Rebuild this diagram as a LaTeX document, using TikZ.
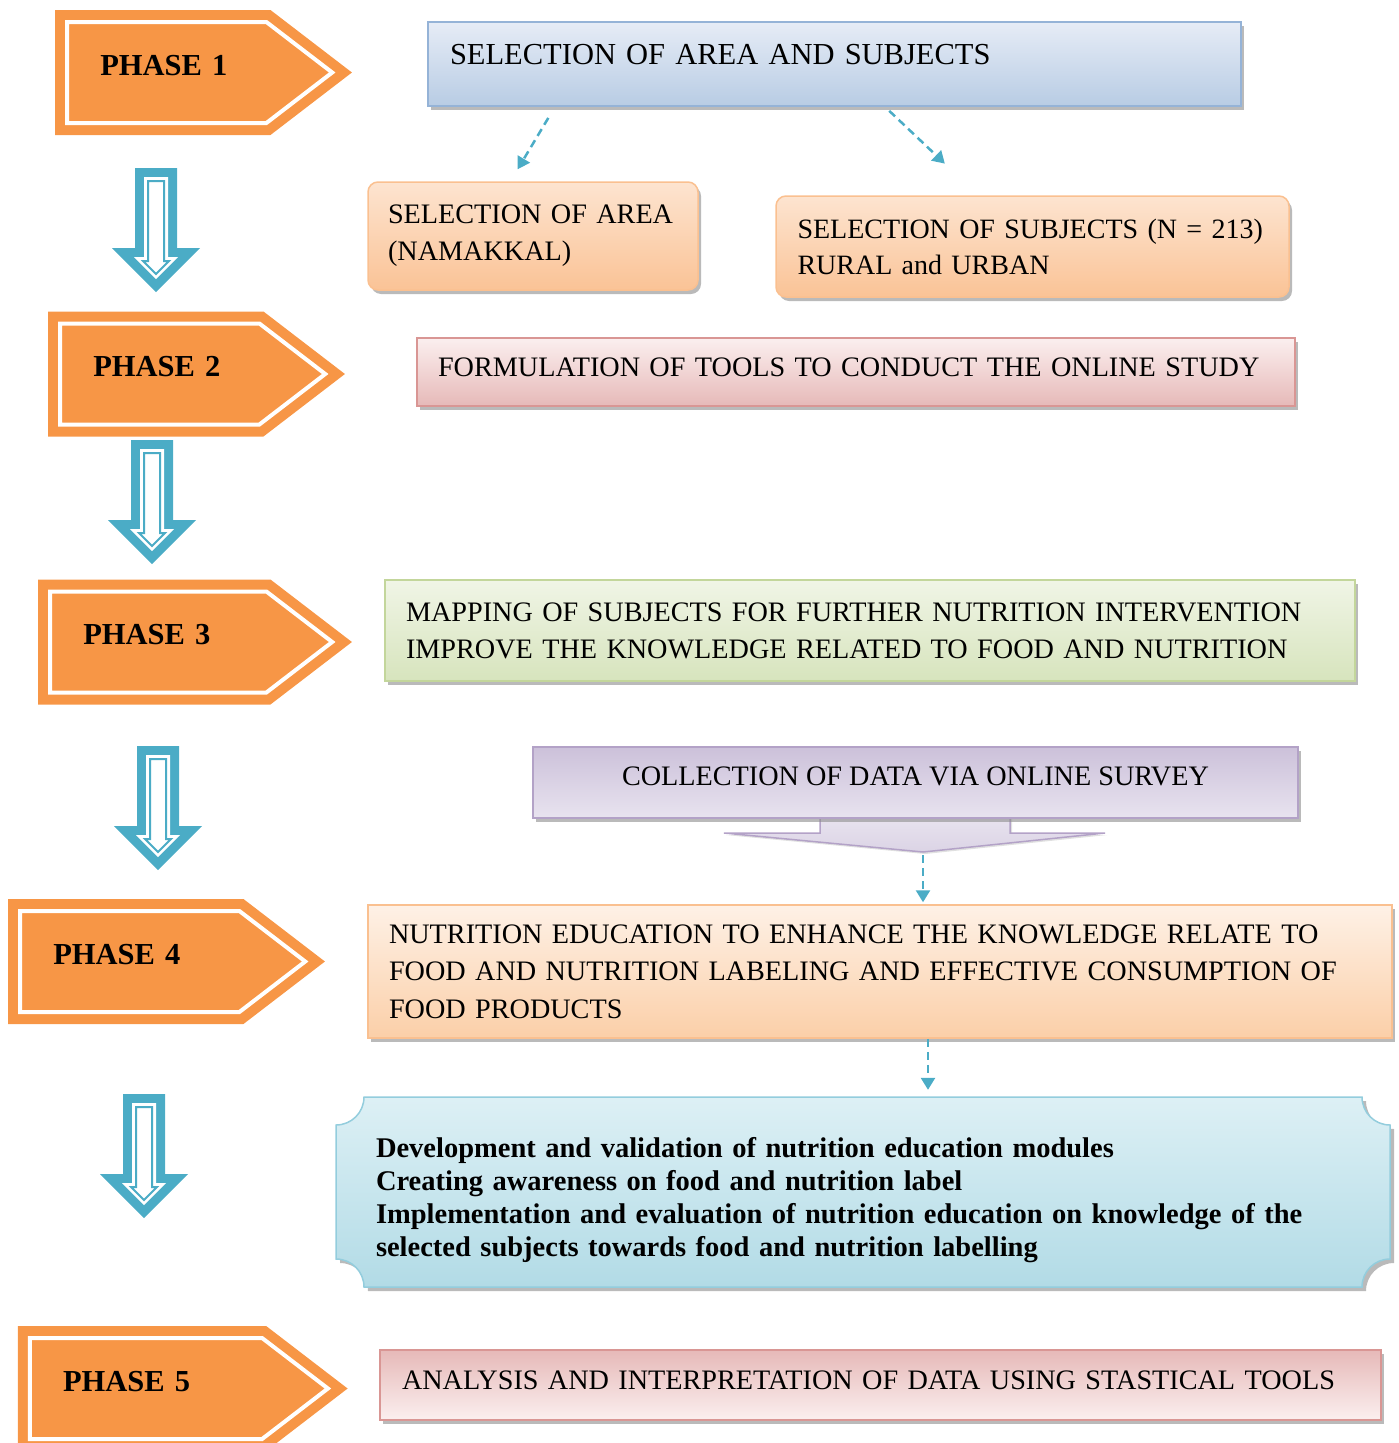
\documentclass[tikz,border=0pt]{standalone}
\usepackage{fontspec}
\setmainfont{Liberation Serif}
\usetikzlibrary{shapes.symbols,arrows.meta,shadows,backgrounds}

\definecolor{phorange}{HTML}{F79646}
\definecolor{arrblue}{HTML}{4BACC6}
\definecolor{selbd}{HTML}{95B3D7}
\definecolor{seltop}{HTML}{E6ECF6}
\definecolor{selbot}{HTML}{B8CCE4}
\definecolor{pchbd}{HTML}{FAC090}
\definecolor{pchtop}{HTML}{FDE4D0}
\definecolor{pchbot}{HTML}{FAC396}
\definecolor{pnkbd}{HTML}{D99694}
\definecolor{pnktop}{HTML}{FBEFEF}
\definecolor{pnkbot}{HTML}{E6B9B8}
\definecolor{grnbd}{HTML}{C3D69B}
\definecolor{grntop}{HTML}{F0F5E6}
\definecolor{grnbot}{HTML}{D7E4BD}
\definecolor{purbd}{HTML}{B3A2C7}
\definecolor{purtop}{HTML}{CCC1DA}
\definecolor{purbot}{HTML}{E8E3EF}
\definecolor{edutop}{HTML}{FEF1E6}
\definecolor{edubot}{HTML}{FBCFA8}
\definecolor{modbd}{HTML}{93CDDD}
\definecolor{modtop}{HTML}{DDF0F5}
\definecolor{modbot}{HTML}{B2DBE6}

\begin{document}
\begin{tikzpicture}[
        x=1pt, y=-1pt,
        font=\fontsize{28.2}{37}\selectfont
    ]
    \tikzset{
        phase/.style = {signal, signal to=east, signal pointer angle=75,
            fill=phorange, draw=phorange, double=white, double distance=4pt,
            line width=10pt, minimum height=101pt, inner xsep=0pt,
            text height=21pt, text depth=16pt, align=left,
            font=\fontsize{30.5}{36}\selectfont\bfseries},
        box/.style = {rectangle, line width=1.5pt, align=left, inner xsep=0pt,
            drop shadow={shadow xshift=3pt, shadow yshift=-4pt, fill=black!45, opacity=.6}},
        selbox/.style = {box, draw=selbd, top color=seltop, bottom color=selbot},
        pchbox/.style = {box, rounded corners=10pt, draw=pchbd, top color=pchtop, bottom color=pchbot},
        pnkbox/.style = {box, draw=pnkbd, top color=pnktop, bottom color=pnkbot},
        grnbox/.style = {box, draw=grnbd, top color=grntop, bottom color=grnbot},
        purbox/.style = {box, draw=purbd, top color=purtop, bottom color=purbot},
        edubox/.style = {box, draw=pchbd, top color=edutop, bottom color=edubot},
        anabox/.style = {box, draw=pnkbd, top color=pnkbot, bottom color=pnktop},
        dasharr/.style = {draw=arrblue, line width=2.5pt, dash pattern=on 8pt off 5pt,
            -{Triangle[length=12pt,width=14pt]}},
        downarr/.pic = {
            \fill[arrblue] (-21,-62) -- (21,-62) -- (21,18) -- (44,18) -- (0,62) -- (-44,18) -- (-21,18) -- cycle;
            \fill[white] (-12,-53) -- (12,-53) -- (12,27) -- (22,27) -- (0,49) -- (-22,27) -- (-12,27) -- cycle;
            \draw[arrblue, line width=2pt] (-8,-49) -- (8,-49) -- (8,31) -- (13,31) -- (0,44) -- (-13,31) -- (-8,31) -- cycle;
        },
    }
    \useasboundingbox (0,0) rectangle (1398,1443);
    %
    \node[phase, minimum width=265pt, text width=133pt] at (166.8,72.5) (p1) {PHASE 1};
    \node[phase, minimum width=265pt, text width=133pt] at (159.8,374) (p2) {PHASE 2};
    \node[phase, minimum width=282pt, text width=150pt] at (158.3,642) (p3) {PHASE 3};
    \node[phase, minimum width=285pt, text width=153pt] at (129.8,961.5) (p4) {PHASE 4};
    \node[phase, minimum width=298pt, text width=166pt] at (146,1388.5) (p5) {PHASE 5};
    %
    \pic at (156,230) {downarr};
    \pic at (152,502) {downarr};
    \pic at (158,808) {downarr};
    \pic at (144,1156) {downarr};
    %
    \node[selbox, minimum width=813pt, minimum height=84pt, text width=769pt,
        text height=24pt, text depth=24pt, font=\fontsize{30.5}{36}\selectfont]
        at (834.5,64) (sel) {SELECTION OF AREA AND SUBJECTS};
    \node[pchbox, minimum width=330pt, minimum height=108pt, text width=290pt]
        at (533,236) (area) {SELECTION OF AREA\\(NAMAKKAL)};
    \node[pchbox, minimum width=513pt, minimum height=101pt, text width=470pt,
        font=\fontsize{28}{36}\selectfont] at (1032.5,246.5) (subj) {SELECTION OF SUBJECTS (N = 213)\\RURAL and URBAN};
    %
    \draw[dasharr, shorten <=13pt, shorten >=14pt] ([xshift=-279.5pt]sel.south) -- ([xshift=-22.5pt]area.north);
    \draw[dasharr, shorten <=6pt, shorten >=46pt] ([xshift=50.4pt]sel.south) -- ([xshift=-54.3pt]subj.north);
    %
    \node[pnkbox, minimum width=878pt, minimum height=68pt, text width=836pt,
        text height=20pt, text depth=12pt] at (856,372) (tools) {FORMULATION OF TOOLS TO CONDUCT THE ONLINE STUDY};
    \node[grnbox, minimum width=970pt, minimum height=101pt, text width=928pt]
        at (870,630.5) (map) {MAPPING OF SUBJECTS FOR FURTHER NUTRITION INTERVENTION\\IMPROVE THE KNOWLEDGE RELATED TO FOOD AND NUTRITION};
    %
    \path[draw=purbd, line width=1.5pt, top color=purbot, bottom color=purtop!70,
        drop shadow={shadow xshift=2pt, shadow yshift=-2pt, fill=black!30, opacity=.4}]
        (820,816) -- (820,833) -- (724,833) -- (923,852) -- (1105,833) -- (1010,833) -- (1010,816);
    \coordinate (colltip) at (923,852);
    \node[purbox, minimum width=765pt, minimum height=71pt, align=center,
        text height=20pt, text depth=14pt] at (915.5,782.5) (coll) {COLLECTION OF DATA VIA ONLINE SURVEY};
    %
    \node[edubox, minimum width=1024pt, minimum height=133pt, text width=982pt,
        font=\fontsize{28.2}{37.5}\selectfont] at (880,971.5) (edu)
        {NUTRITION EDUCATION TO ENHANCE THE KNOWLEDGE RELATE TO\\FOOD AND NUTRITION LABELING AND EFFECTIVE CONSUMPTION OF\\FOOD PRODUCTS};
    \draw[dasharr, shorten <=3pt, shorten >=2pt] (colltip) -- (colltip |- edu.north);
    %
    \node[minimum width=1054pt, minimum height=190pt, text width=974pt, align=left, inner xsep=0pt,
        text height=37pt, font=\fontsize{28.5}{33}\selectfont\bfseries] at (863,1192) (mods)
        {Development and validation of nutrition education modules\\Creating awareness on food and nutrition label\\Implementation and evaluation of nutrition education on knowledge of the\\selected subjects towards food and nutrition labelling};
    \begin{scope}[on background layer]
        \path[draw=modbd, line width=1.5pt, top color=modtop, bottom color=modbot,
            drop shadow={shadow xshift=4pt, shadow yshift=-4pt, fill=black!45, opacity=.6}]
            (364,1097) -- (1362,1097) .. controls (1362,1112.5) and (1374.5,1125) .. (1390,1125)
            -- (1390,1259) .. controls (1374.5,1259) and (1362,1271.5) .. (1362,1287)
            -- (364,1287) .. controls (364,1271.5) and (351.5,1259) .. (336,1259)
            -- (336,1125) .. controls (351.5,1125) and (364,1112.5) .. (364,1097) -- cycle;
    \end{scope}
    \draw[dasharr, shorten >=7pt] ([xshift=48pt]edu.south) -- ([xshift=48pt]edu.south |- mods.north);
    %
    \node[anabox, minimum width=1001pt, minimum height=70pt, text width=957pt,
        text height=20pt, text depth=12pt] at (880.5,1385) (ana) {ANALYSIS AND INTERPRETATION OF DATA USING STASTICAL TOOLS};
\end{tikzpicture}
\end{document}
